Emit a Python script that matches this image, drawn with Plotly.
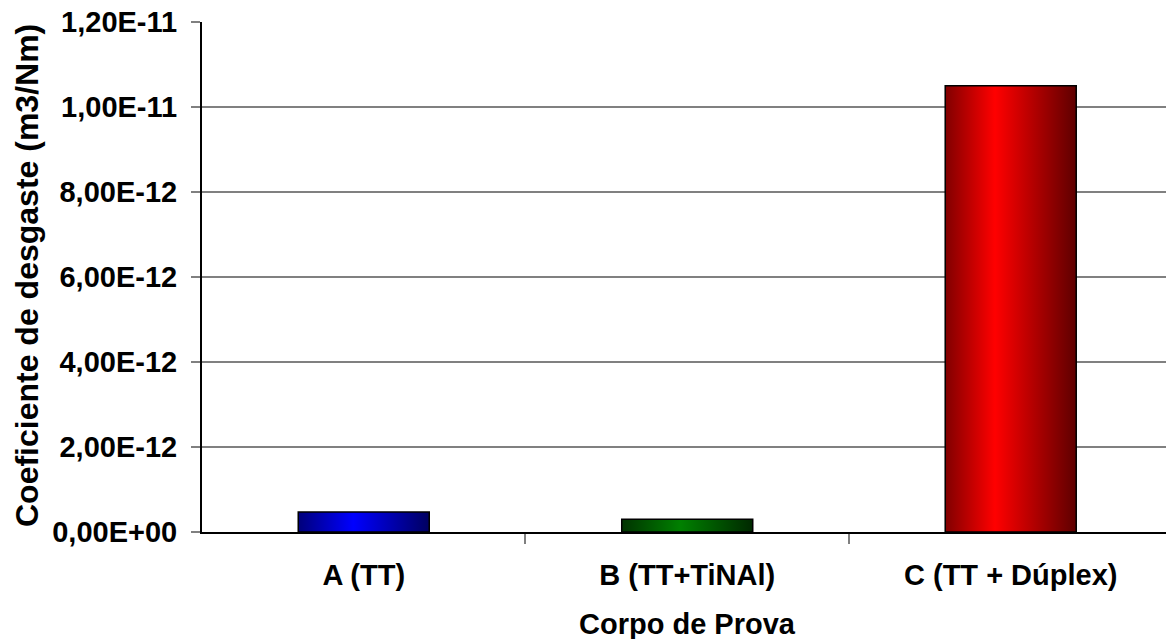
import plotly.graph_objects as go

# Wear coefficient per specimen (m3/Nm)
categories = ["A (TT)", "B (TT+TiNAl)", "C (TT + Dúplex)"]
wear_coeff = [4.7e-13, 3.0e-13, 1.05e-11]

y_tickvals = [0, 2e-12, 4e-12, 6e-12, 8e-12, 1e-11, 1.2e-11]
y_ticktext = ["0,00E+00", "2,00E-12", "4,00E-12", "6,00E-12",
              "8,00E-12", "1,00E-11", "1,20E-11"]

# Horizontal gradient for each bar: dark edges, bright centre
gradients = [
    [[0, "#00007a"], [0.42, "#0000ff"], [1, "#000060"]],
    [[0, "#003300"], [0.45, "#008000"], [1, "#002800"]],
    [[0, "#800000"], [0.38, "#ff0000"], [1, "#5e0000"]],
]

BAR_WIDTH = 0.405
FONT = "Liberation Sans, Arial, sans-serif"
FS = 29

fig = go.Figure()
for i, (val, cs) in enumerate(zip(wear_coeff, gradients)):
    x0, x1 = i - BAR_WIDTH / 2, i + BAR_WIDTH / 2
    fig.add_trace(go.Scatter(
        x=[x0, x0, x1, x1, x0],
        y=[0, val, val, 0, 0],
        mode="lines",
        fill="toself",
        fillgradient=dict(type="horizontal", colorscale=cs),
        line=dict(color="#000000", width=1.5),
        hoverinfo="skip",
        showlegend=False,
    ))

fig.update_layout(
    width=1166,
    height=639,
    margin=dict(l=202, r=0, t=22, b=107),
    paper_bgcolor="white",
    plot_bgcolor="white",
    font=dict(family=FONT, size=FS, color="black"),
    xaxis=dict(
        range=[-0.5, 2.48],
        tickmode="array",
        tickvals=[0, 1, 2],
        ticktext=categories,
        ticks="",
        showgrid=False,
        zeroline=False,
        showline=True,
        linecolor="black",
        linewidth=2,
        tickfont=dict(family=FONT, size=FS, color="black", weight="bold"),
        ticklabelstandoff=16,
        minor=dict(
            tickmode="array",
            tickvals=[0.5, 1.5],
            ticks="outside",
            ticklen=10,
            tickwidth=1.5,
            tickcolor="#808080",
            showgrid=False,
        ),
    ),
    yaxis=dict(
        range=[0, 1.2e-11],
        tickmode="array",
        tickvals=y_tickvals,
        ticktext=y_ticktext,
        ticks="outside",
        ticklen=9,
        tickwidth=1.5,
        tickcolor="#808080",
        showgrid=True,
        gridcolor="#808080",
        gridwidth=1.5,
        zeroline=False,
        showline=True,
        linecolor="black",
        linewidth=2,
        tickfont=dict(family=FONT, size=FS, color="black", weight="bold"),
        ticklabelstandoff=8,
    ),
    annotations=[
        dict(
            text="<b>Coeficiente de desgaste (m3/Nm)</b>",
            xref="paper", yref="paper",
            x=-0.1815, y=0.502,
            textangle=-90,
            showarrow=False,
            font=dict(family=FONT, size=32, color="black"),
            xanchor="center", yanchor="middle",
        ),
        dict(
            text="<b>Corpo de Prova</b>",
            xref="paper", yref="paper",
            x=0.504, y=-0.180,
            showarrow=False,
            font=dict(family=FONT, size=FS, color="black"),
            xanchor="center", yanchor="middle",
        ),
    ],
)

fig.write_html("out.html")
